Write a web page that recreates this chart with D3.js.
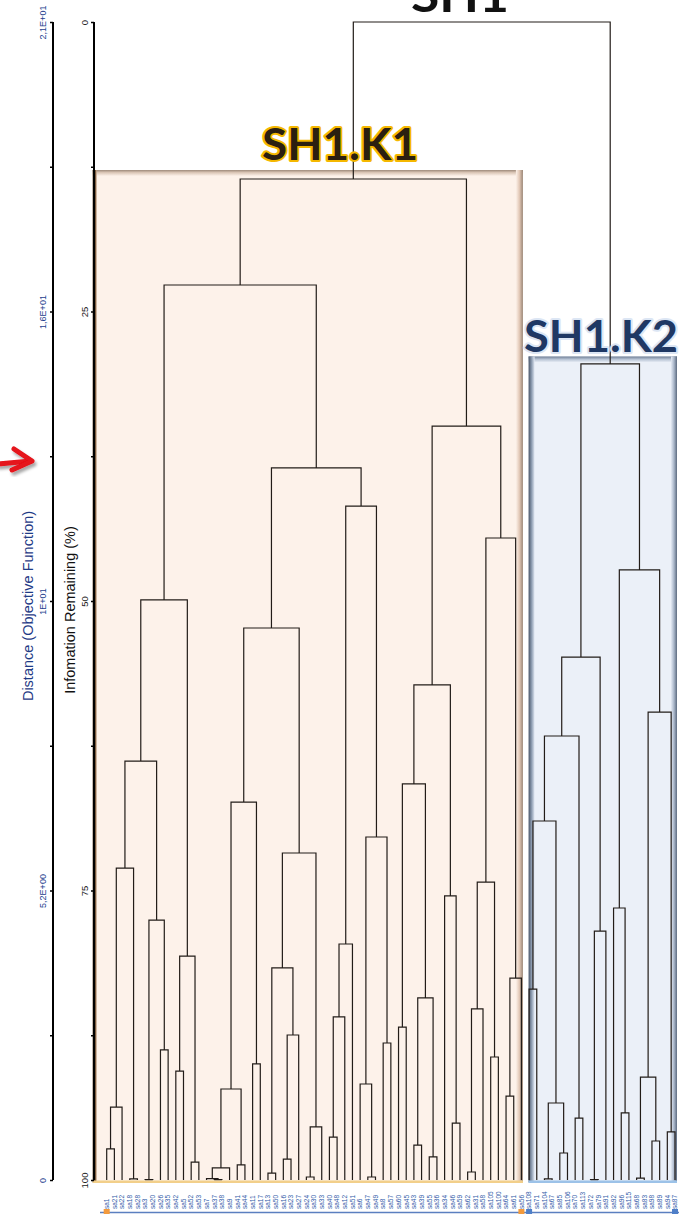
<!DOCTYPE html>
<html>
<head>
<meta charset="utf-8">
<script src="https://cdnjs.cloudflare.com/ajax/libs/d3/7.8.5/d3.min.js"></script>
<style>
body { margin: 0; background: #fff; }
svg { display: block; font-family: "Liberation Sans", Arial, sans-serif; }
</style>
</head>
<body>
<div id="chart"></div>
<script>
// leaf (plot) names, left to right
var leafLabels = ["sa1","sa21","sa22","sa18","sa28","sa3","sa20","sa26","sa35","sa42",
  "sa5","sa52","sa53","sa7","sa37","sa38","sa9","sa41","sa44","sa11",
  "sa17","sa13","sa50","sa16","sa23","sa27","sa24","sa30","sa33","sa40",
  "sa48","sa12","sa51","sa6","sa47","sa49","sa8","sa57","sa60","sa45",
  "sa43","sa39","sa55","sa36","sa34","sa46","sa59","sa62","sa31","sa58",
  "sa105","sa100","sa64","sa61","sa56",
  "sa108","sa71","sa104","sa67","sa85","sa106","sa70","sa113","sa72","sa79",
  "sa91","sa92","sa96","sa115","sa68","sa83","sa98","sa89","sa94","sa87"];

// clusters: [information remaining (%), left, right], numbers are leaf indexes
var k1Tree = [13.56,
  [22.71,
    [49.91,
      [63.82,
        [73.06, [93.70, [97.32, 0, 1], 2], [99.91, 3, 4]],
        [77.55, [99.96, 5, 6], [88.77, 7, 8]]],
      [80.66, [90.59, 9, 10], [98.45, 11, 12]]],
    [38.51,
      [52.33,
        [67.36, [92.14, [98.96, [99.88, 13, [99.97, 14, 15]], 16], [98.70, 17, 18]], [89.98, 19, 20]],
        [71.76, [81.69, [99.40, 21, 22], [87.48, [98.19, 23, 24], 25]], [95.42, [99.74, 26, 27], 28]]],
      [41.80,
        [79.62, [85.92, [96.29, 29, 30], 31], 32],
        [70.38, [91.71, 33, [99.74, 34, 35]], [88.17, 36, 37]]]]],
  [34.89,
    [57.25,
      [65.80, [86.79, 38, 39], [84.28, [96.98, 40, 41], [98.01, 42, 43]]],
      [75.47, 44, [95.08, 45, 46]]],
    [44.56,
      [74.27, [85.23, [99.31, 47, 48], 49], [89.38, 50, 51]],
      [82.56, [92.75, 52, 53], 54]]]];

var k2Tree = [29.53,
  [54.84,
    [61.66,
      [69.00, [83.51, 55, 56], [93.35, [99.91, 57, 58], [97.67, 59, 60]]],
      [94.65, 61, 62]],
    [78.50, [99.96, 63, 64], 65]],
  [47.32,
    [76.51, 66, [94.21, 67, 68]],
    [59.59,
      [91.11, [99.83, 69, 70], [96.63, 71, 72]],
      [95.85, 73, 74]]]];

var rootHeight = 0;

var infoTicks = [0, 12.5, 25, 37.5, 50, 62.5, 75, 87.5, 100];
var infoTickLabels = ["0", "", "25", "", "50", "", "75", "", "100"];
var distTickLabels = ["2,1E+01", "", "1,6E+01", "", "1E+01", "", "5,2E+00", "", "0"];

var groupNames = ["SH1.K1", "SH1.K2"];
var groupFirstLeaf = [0, 55];
var groupLastLeaf = [54, 74];
var groupHeights = [13.56, 29.53];

var W = 679, H = 1214;
var svg = d3.select("#chart").append("svg").attr("width", W).attr("height", H);

var x = d3.scalePoint().domain(d3.range(leafLabels.length)).range([106.7, 675]);
var y = d3.scaleLinear().domain([0, 100]).range([22, 1180]);

var defs = svg.append("defs");
function grad(id, dir, stops) {
  var g = defs.append("linearGradient").attr("id", id);
  if (dir === "v") g.attr("x1", 0).attr("y1", 0).attr("x2", 0).attr("y2", 1);
  stops.forEach(function(s) { g.append("stop").attr("offset", s[0]).attr("stop-color", s[1]); });
}
grad("k1top", "v", [[0, "#9c8878"], [0.4, "#d9c4b4"], [1, "#fdf2ea"]]);
grad("k1right", "h", [[0, "#fdf2ea"], [0.5, "#e2c8b6"], [1, "#9a8676"]]);
grad("k1left", "h", [[0, "#3a2410"], [0.6, "#5e3f22"], [1, "#c8ab92"]]);
grad("k2top", "v", [[0, "#6f7f96"], [0.5, "#b9c5d6"], [1, "#ebf0f8"]]);
grad("k2left", "h", [[0, "#4a5668"], [0.5, "#8c9bb0"], [1, "#dfe6f1"]]);
grad("k2right", "h", [[0, "#e4eaf4"], [0.5, "#a9b6c9"], [1, "#5d6b80"]]);
var sh = defs.append("filter").attr("id", "shadow").attr("x", "-30%").attr("y", "-30%").attr("width", "160%").attr("height", "160%");
sh.append("feDropShadow").attr("dx", 2).attr("dy", 3).attr("stdDeviation", 1.5).attr("flood-color", "#000").attr("flood-opacity", 0.35);

// group boxes
var boxStyle = [
  {fill: "#fdf2ea", top: "k1top", left: "k1left", right: "k1right", bottom: "#f2cf8a", padL: 14, padR: 1.5, padT: 9, lw: 4, rw: 7},
  {fill: "#ebf0f8", top: "k2top", left: "k2left", right: "k2right", bottom: "#9cc2e8", padL: 0.5, padR: 2, padT: 7.5, lw: 6, rw: 6}
];
groupNames.forEach(function(name, i) {
  var st = boxStyle[i];
  var x0 = x(groupFirstLeaf[i]) - st.padL, x1 = x(groupLastLeaf[i]) + st.padR;
  var y0 = y(groupHeights[i]) - st.padT, y1 = y(100) + 2.5;
  var g = svg.append("g");
  g.append("rect").attr("x", x0).attr("y", y0).attr("width", x1 - x0).attr("height", y1 - y0).attr("fill", st.fill);
  g.append("rect").attr("x", x0).attr("y", y0).attr("width", x1 - x0).attr("height", 6).attr("fill", "url(#" + st.top + ")");
  g.append("rect").attr("x", x0).attr("y", y0).attr("width", st.lw).attr("height", y1 - y0).attr("fill", "url(#" + st.left + ")");
  g.append("rect").attr("x", x1 - st.rw).attr("y", y0).attr("width", st.rw).attr("height", y1 - y0).attr("fill", "url(#" + st.right + ")");
  g.append("rect").attr("x", x0).attr("y", y1 - 2).attr("width", x1 - x0).attr("height", 2.5).attr("fill", st.bottom);
});

// axes
var axisInfo = d3.axisLeft(y).tickValues(infoTicks).tickSize(3)
  .tickFormat(function(d, i) { return infoTickLabels[i]; });
var axisDist = d3.axisLeft(y).tickValues(infoTicks).tickSize(3)
  .tickFormat(function(d, i) { return distTickLabels[i]; });

function styleAxis(g, dx, size, color) {
  g.select(".domain").attr("stroke", "#000").attr("stroke-width", 2).attr("d", "M0," + y(0) + "V" + y(100));
  g.selectAll(".tick line").attr("stroke", "#000").attr("stroke-width", 1.5);
  g.selectAll(".tick text")
    .attr("x", null).attr("dy", null).attr("y", null)
    .attr("text-anchor", "middle")
    .attr("transform", "translate(" + dx + ",0) rotate(-90)")
    .attr("font-size", size).attr("fill", color)
    .attr("font-family", "'Liberation Sans', Arial, sans-serif");
}
var gInfo = svg.append("g").attr("transform", "translate(94,0)").call(axisInfo);
styleAxis(gInfo, -6, 9.5, "#1a1a1a");
var gDist = svg.append("g").attr("transform", "translate(53,0)").call(axisDist);
styleAxis(gDist, -7, 9, "#24408e");

svg.append("text").attr("transform", "translate(33,606) rotate(-90)").attr("text-anchor", "middle")
  .attr("font-size", 14.5).attr("fill", "#1f3b86").text("Distance (Objective Function)");
svg.append("text").attr("transform", "translate(75,610) rotate(-90)").attr("text-anchor", "middle")
  .attr("font-size", 14.5).attr("fill", "#111").text("Infomation Remaining (%)");

// dendrogram
function toNode(t) {
  return Array.isArray(t) ? {h: t[0], children: [toNode(t[1]), toNode(t[2])]} : {leaf: t, h: 100};
}
var root = d3.hierarchy(toNode([rootHeight, k1Tree, k2Tree]));
root.eachAfter(function(n) {
  n.px = n.children ? (n.children[0].px + n.children[1].px) / 2 : x(n.data.leaf);
  n.py = y(n.data.h);
});
var inner = root.descendants().filter(function(n) { return n.children; });
svg.append("g").selectAll("path").data(inner).enter().append("path")
  .attr("fill", "none").attr("stroke", "#221c18").attr("stroke-width", 1.2)
  .attr("d", function(n) {
    var a = n.children[0], b = n.children[1];
    return "M" + a.px + "," + a.py + "V" + n.py + "H" + b.px + "V" + b.py;
  });

// leaf labels
svg.append("g").selectAll("text").data(root.leaves()).enter().append("text")
  .attr("transform", function(n) { return "translate(" + (n.px + 2.3) + ",1209) rotate(-90)"; })
  .attr("font-size", 6.5).attr("fill", "#2f5aa8")
  .text(function(n) { return leafLabels[n.data.leaf]; });

svg.append("line").attr("x1", 100).attr("x2", W).attr("y1", 1212.5).attr("y2", 1212.5)
  .attr("stroke", "#5b7fc0").attr("stroke-width", 1.5);
var markColors = ["#f39a3c", "#4f7fc8"];
groupNames.forEach(function(name, i) {
  [groupFirstLeaf[i], groupLastLeaf[i]].forEach(function(l) {
    svg.append("rect").attr("x", x(l) - 3).attr("y", 1209).attr("width", 6).attr("height", 5).attr("fill", markColors[i]);
  });
});

// cluster titles
var titleFill = ["#2b1f10", "#1f3864"], titleStroke = ["#f5b800", "#dce6f4"];
var titleX = [340, 601], titleY = [160, 352], titleLen = [156, 154];
groupNames.forEach(function(name, i) {
  svg.append("text").attr("x", titleX[i]).attr("y", titleY[i]).attr("text-anchor", "middle")
    .attr("font-family", "Lato, 'Open Sans', sans-serif").attr("font-weight", "bold").attr("font-size", 44)
    .attr("textLength", titleLen[i]).attr("lengthAdjust", "spacingAndGlyphs")
    .attr("fill", titleFill[i]).attr("stroke", titleStroke[i]).attr("stroke-width", 4)
    .attr("paint-order", "stroke").attr("stroke-linejoin", "round")
    .text(name);
});
// the top title is cut by the picture edge, as in the original
svg.append("text").attr("x", 460).attr("y", 12).attr("text-anchor", "middle")
  .attr("font-family", "Lato, 'Open Sans', sans-serif").attr("font-weight", "bold").attr("font-size", 46)
  .attr("textLength", 98).attr("lengthAdjust", "spacingAndGlyphs")
  .attr("fill", "#111").text("SH1");

// red arrow
var arrow = svg.append("g").attr("filter", "url(#shadow)").attr("stroke", "#e5121a")
  .attr("stroke-width", 5).attr("stroke-linecap", "round").attr("stroke-linejoin", "round").attr("fill", "none");
arrow.append("path").attr("d", "M-2,464 L31,461");
arrow.append("path").attr("d", "M14,449 L32,461 L12,470");
</script>
</body>
</html>
